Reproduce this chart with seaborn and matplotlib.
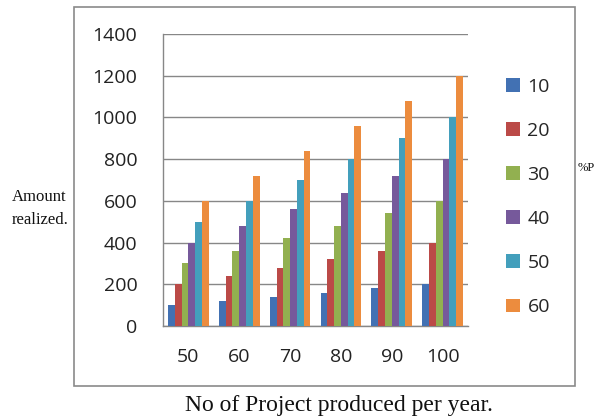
import matplotlib
matplotlib.use("Agg")
import matplotlib.pyplot as plt
from matplotlib.patches import Rectangle
from matplotlib.ticker import FixedLocator
import seaborn as sns
import pandas as pd

# Projects produced per year (x categories)
projects = ["50", "60", "70", "80", "90", "100"]
# Percentage series shown in the legend
percent_labels = ["10", "20", "30", "40", "50", "60"]
# Amount realized for each series, one value per project category
amount_10 = [100, 120, 140, 160, 180, 200]
amount_20 = [200, 240, 280, 320, 360, 400]
amount_30 = [300, 360, 420, 480, 540, 600]
amount_40 = [400, 480, 560, 640, 720, 800]
amount_50 = [500, 600, 700, 800, 900, 1000]
amount_60 = [600, 720, 840, 960, 1080, 1200]
y_ticks = [0, 200, 400, 600, 800, 1000, 1200, 1400]

series = [amount_10, amount_20, amount_30, amount_40, amount_50, amount_60]
rows = []
for label, vals in zip(percent_labels, series):
    for proj, v in zip(projects, vals):
        rows.append({"projects": proj, "percent": label, "amount": v})
df = pd.DataFrame(rows)

colors = ["#4271B3", "#BB4A47", "#92B050", "#76599B", "#439FBC", "#EC8C3E"]

sns.set_style("white")
plt.rcParams["font.family"] = ["Open Sans", "DejaVu Sans"]

fig = plt.figure(figsize=(6.0, 4.18), dpi=100)
ax = fig.add_axes([163 / 600, 1 - 326 / 418, (468 - 163) / 600, (326 - 34) / 418])

sns.barplot(data=df, x="projects", y="amount", hue="percent",
            order=projects, hue_order=percent_labels, palette=colors,
            width=0.8, saturation=1, ax=ax, zorder=3, linewidth=0)

grid_col = "#878787"
ax.set_ylim(0, 1400)
ax.set_yticks(y_ticks)
ax.set_xlim(-0.5, len(projects) - 0.5)
ax.yaxis.grid(True, color=grid_col, linewidth=1.0, zorder=0)
ax.set_axisbelow(True)
for side in ["top", "right"]:
    ax.spines[side].set_visible(False)
for side in ["left", "bottom"]:
    ax.spines[side].set_color(grid_col)
    ax.spines[side].set_linewidth(1.0)

ax.tick_params(axis="y", which="major", length=6.5, color=grid_col, width=1.0,
               pad=12, labelsize=14, labelcolor="#222222")
ax.tick_params(axis="x", which="major", length=0, pad=16, labelsize=14,
               labelcolor="#222222")
ax.xaxis.set_minor_locator(FixedLocator([i - 0.5 for i in range(len(projects) + 1)]))
ax.tick_params(axis="x", which="minor", length=4, color=grid_col, width=1.0)
ax.set_xlabel("")
ax.set_ylabel("")

handles, labels = ax.get_legend_handles_labels()
ax.legend(handles, labels, loc="center left",
          bbox_to_anchor=(506 / 600, 1 - 197 / 418), bbox_transform=fig.transFigure,
          frameon=False, fontsize=14, handlelength=0.7, handleheight=0.7,
          handletextpad=0.4, labelspacing=1.34, borderpad=0, borderaxespad=0)

# Outer chart frame
fig.add_artist(Rectangle((74 / 600, 1 - 386 / 418), (575 - 74) / 600, (386 - 7) / 418,
                         transform=fig.transFigure, fill=False,
                         edgecolor="#8a8a8a", linewidth=1.2))

serif = ["Liberation Serif", "DejaVu Serif"]
fig.text(12 / 600, 1 - 197 / 418, "Amount", family=serif, fontsize=12,
         ha="left", va="center", color="#111111")
fig.text(12 / 600, 1 - 220 / 418, "realized.", family=serif, fontsize=12,
         ha="left", va="center", color="#111111")
fig.text(578 / 600, 1 - 168 / 418, "%P", family=serif, fontsize=9,
         ha="left", va="center", color="#111111")
fig.text(339 / 600, 1 - 405 / 418, "No of Project produced per year.", family=serif,
         fontsize=17, ha="center", va="center", color="#111111")

fig.savefig("out.png", dpi=100)
